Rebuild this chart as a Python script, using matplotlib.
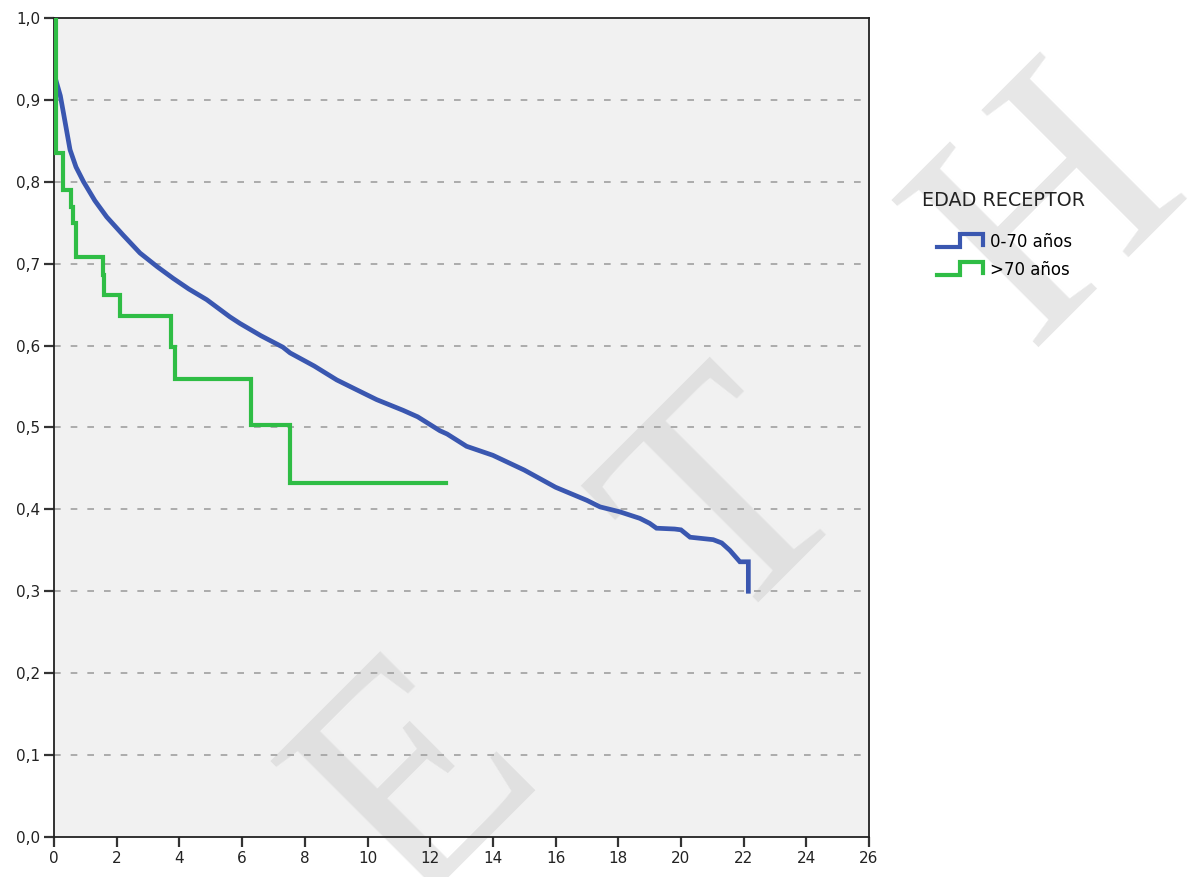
import matplotlib
matplotlib.use("Agg")
import matplotlib.pyplot as plt
from matplotlib.lines import Line2D
from matplotlib.legend_handler import HandlerBase
from matplotlib.ticker import FuncFormatter, MultipleLocator

# ---- data ----
blue_t = [0.0, 0.05, 0.2, 0.3, 0.51, 0.7, 0.94, 1.3, 1.68, 2.2, 2.74, 3.3, 3.8, 4.3, 4.87,
          5.61, 5.93, 6.6, 7.3, 7.53, 8.3, 9.02, 9.6, 10.29, 11.13, 11.6, 12.31, 12.54,
          13.16, 14.0, 15.0, 16.0, 17.0, 17.42, 18.05, 18.69, 19.0, 19.22, 19.8, 20.0,
          20.29, 21.03, 21.3, 21.56, 21.88, 22.15, 22.15]
blue_s = [1.0, 0.925, 0.905, 0.884, 0.839, 0.818, 0.80, 0.777, 0.757, 0.735, 0.713, 0.696,
          0.682, 0.669, 0.656, 0.635, 0.627, 0.612, 0.598, 0.591, 0.575, 0.558, 0.547,
          0.534, 0.521, 0.513, 0.496, 0.492, 0.477, 0.466, 0.448, 0.427, 0.411, 0.403,
          0.397, 0.389, 0.383, 0.377, 0.376, 0.375, 0.366, 0.363, 0.359, 0.350, 0.336,
          0.336, 0.30]

green_t = [0.0, 0.05, 0.30, 0.53, 0.62, 0.70, 1.55, 1.60, 2.10, 3.72, 3.86, 6.27, 7.53, 12.52]
green_s = [1.0, 0.835, 0.790, 0.769, 0.749, 0.708, 0.686, 0.662, 0.636, 0.598, 0.559, 0.503, 0.432, 0.432]

series_labels = ["0-70 años", ">70 años"]
legend_title = "EDAD RECEPTOR"
watermark_letters = ["E", "T", "H"]

BLUE = "#3a57b0"
GREEN = "#2fbd45"

fig = plt.figure(figsize=(11.88, 8.77), dpi=100)
ax = fig.add_axes([0.0455, 0.0456, 0.686, 0.934])
ax.set_facecolor("#f1f1f1")

ax.plot(blue_t, blue_s, color=BLUE, lw=3.4, zorder=3, solid_joinstyle="miter")
ax.step(green_t, green_s, where="post", color=GREEN, lw=3.0, zorder=4, solid_joinstyle="miter")

ax.set_xlim(0, 26)
ax.set_ylim(0, 1.0)
ax.xaxis.set_major_locator(MultipleLocator(2))
ax.yaxis.set_major_locator(MultipleLocator(0.1))
ax.yaxis.set_major_formatter(FuncFormatter(lambda v, p: f"{v:.1f}".replace(".", ",")))
for yv in [i / 10 for i in range(1, 10)]:
    ax.axhline(yv, color="#a0a0a0", lw=1.2, ls=(0, (4, 6)), zorder=1)
for s in ax.spines.values():
    s.set_color("#222222")
    s.set_linewidth(1.3)
ax.tick_params(direction="out", length=7, width=1.6, color="#333333",
               labelsize=11, labelcolor="#222222", pad=3)

# watermark letters (behind data)
wm = dict(color="#d0d0d0", alpha=0.5, fontsize=228, family="Liberation Serif",
          rotation=45, ha="center", va="center", zorder=0.5, clip_on=False,
          transform=fig.transFigure)
for letter, (fx, fy) in zip(watermark_letters, [(0.356, 0.105), (0.620, 0.418), (0.889, 0.758)]):
    ax.text(fx, fy, letter, **wm)


class StepHandler(HandlerBase):
    def create_artists(self, legend, orig_handle, xdescent, ydescent, width, height, fontsize, trans):
        w = width
        h = height
        xs = [0, 0.5 * w, 0.5 * w, w, w]
        ys = [0.0, 0.0, h, h, 0.15 * h]
        ln = Line2D(xs, ys, color=orig_handle.get_color(), lw=3, transform=trans,
                    solid_joinstyle="miter")
        return [ln]


handles = [Line2D([], [], color=BLUE), Line2D([], [], color=GREEN)]
leg = fig.legend(handles, series_labels, loc="upper left",
                 bbox_to_anchor=(937 / 1188, 1 - 233 / 877), frameon=False, fontsize=12,
                 handler_map={Line2D: StepHandler()}, borderpad=0, borderaxespad=0,
                 handlelength=2.76, handleheight=0.78, handletextpad=0.42, labelspacing=0.6)
fig.text(922 / 1188, 1 - 200 / 877, legend_title, fontsize=13.8, color="#222222",
         ha="left", va="center")

fig.savefig("out.png", dpi=100)
